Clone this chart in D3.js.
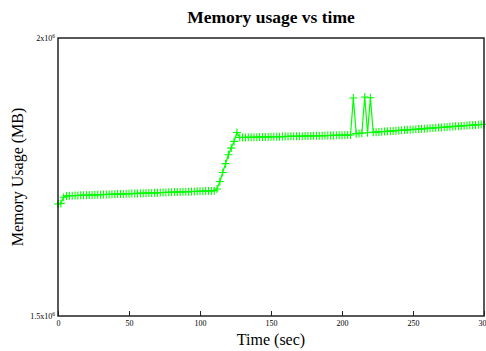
<!DOCTYPE html>
<html>
<head>
<meta charset="utf-8">
<script src="https://cdn.jsdelivr.net/npm/d3@7/dist/d3.min.js"></script>
<style>
  html, body { margin: 0; padding: 0; background: #fff; overflow: hidden; }
  svg { display: block; }
  text { font-family: "Liberation Serif", "Times New Roman", serif; fill: #000; }
</style>
</head>
<body>
<svg id="chart" width="486" height="351"></svg>
<script>
const title = "Memory usage vs time";
const xLabel = "Time (sec)";
const yLabel = "Memory Usage (MB)";
const xTicks = [0, 50, 100, 150, 200, 250, 300];
const yTicks = [1500000, 2000000];
const yTickLabels = [["1.5x10", "6"], ["2x10", "6"]];

const times = [
  0, 2, 4, 6, 8, 10, 12, 14, 16, 18, 20, 22, 24, 26, 28, 30, 32, 34, 36, 38,
  40, 42, 44, 46, 48, 50, 52, 54, 56, 58, 60, 62, 64, 66, 68, 70, 72, 74, 76, 78,
  80, 82, 84, 86, 88, 90, 92, 94, 96, 98, 100, 102, 104, 106, 108, 110,
  112, 114, 116, 118, 120, 122, 124, 126,
  128, 130, 132, 134, 136, 138, 140, 142, 144, 146, 148, 150, 152, 154, 156, 158,
  160, 162, 164, 166, 168, 170, 172, 174, 176, 178, 180, 182, 184, 186, 188, 190,
  192, 194, 196, 198, 200, 202, 204, 206,
  208, 210, 212, 214, 216, 218, 220, 222,
  224, 226, 228, 230, 232, 234, 236, 238, 240, 242, 244, 246, 248, 250, 252, 254,
  256, 258, 260, 262, 264, 266, 268, 270, 272, 274, 276, 278, 280, 282, 284, 286,
  288, 290, 292, 294, 296, 298, 300
];

const memory = [
  1701400, 1702500, 1713500, 1716000,
  1716300, 1716500, 1716600, 1716800, 1717000, 1717200, 1717300, 1717500, 1717700, 1717900,
  1718000, 1718200, 1718400, 1718600, 1718700, 1718900, 1719100, 1719300, 1719400, 1719600,
  1719800, 1720000, 1720100, 1720300, 1720500, 1720700, 1720800, 1721000, 1721200, 1721400,
  1721500, 1721700, 1721900, 1722100, 1722200, 1722400, 1722600, 1722800, 1722900, 1723100,
  1723300, 1723500, 1723600, 1723800, 1724000, 1724200, 1724300, 1724500, 1724700, 1724900,
  1725000, 1725200,
  1728500, 1742000, 1758000, 1774000, 1790000, 1802000, 1814000, 1830000,
  1821000, 1821100, 1821200, 1821300, 1821500, 1821600, 1821700, 1821800, 1821900, 1822000,
  1822200, 1822300, 1822400, 1822500, 1822600, 1822700, 1822800, 1823000, 1823100, 1823200,
  1823300, 1823400, 1823500, 1823700, 1823800, 1823900, 1824000, 1824100, 1824200, 1824400,
  1824500, 1824600, 1824700, 1824800, 1824900, 1825100, 1825200, 1825300, 1825400, 1825500,
  1892000, 1828000, 1828400, 1828800, 1894000, 1829600, 1892500, 1830400,
  1830700, 1831100, 1831400, 1831800, 1832200, 1832500, 1832900, 1833300, 1833700, 1834000,
  1834400, 1834800, 1835100, 1835500, 1835900, 1836300, 1836600, 1837000, 1837400, 1837700,
  1838100, 1838500, 1838900, 1839200, 1839600, 1840000, 1840300, 1840700, 1841100, 1841500,
  1841800, 1842200, 1842600, 1842900, 1843300, 1843700, 1844100, 1844400, 1844800
];

const data = times.map((t, i) => ({ t, m: memory[i] }));

const svg = d3.select("#chart");
const L = 58, R = 484, T = 38, B = 316;

const x = d3.scaleLinear().domain([0, 300]).range([L, R]);
const y = d3.scaleLinear().domain([1500000, 2000000]).range([B, T]);

// title
svg.append("text")
  .attr("x", (L + R) / 2).attr("y", 23)
  .attr("text-anchor", "middle")
  .attr("font-size", 17.5).attr("font-weight", "bold")
  .text(title);

// x axis ticks (inward)
const xAxis = d3.axisBottom(x).tickValues(xTicks).tickSize(-5).tickPadding(4)
  .tickFormat(d3.format("d"));
const gx = svg.append("g").attr("transform", `translate(0,${B})`).call(xAxis);
gx.select(".domain").remove();
gx.selectAll(".tick line").attr("stroke", "#222").attr("stroke-width", 1);
gx.selectAll(".tick text")
  .attr("font-size", 8).attr("font-family", "Liberation Serif, serif").attr("fill", "#000");

// y axis ticks & labels
const gy = svg.append("g");
yTicks.forEach((v, i) => {
  const tx = gy.append("text")
    .attr("x", 55).attr("y", y(v) + 3)
    .attr("text-anchor", "end")
    .attr("font-size", 8);
  tx.append("tspan").text(yTickLabels[i][0]);
  tx.append("tspan").attr("font-size", 5.5).attr("dy", -3.5).text(yTickLabels[i][1]);
});

// line
const line = d3.line().x(d => x(d.t)).y(d => y(d.m));
svg.append("path")
  .datum(data)
  .attr("fill", "none")
  .attr("stroke", "#00ff00")
  .attr("stroke-width", 1.2)
  .attr("d", line);

// + markers
svg.append("g").selectAll("path")
  .data(data)
  .join("path")
  .attr("transform", d => `translate(${x(d.t)},${y(d.m)})`)
  .attr("d", "M-4,0H4M0,-4V4")
  .attr("stroke", "#00ff00")
  .attr("stroke-width", 1.1)
  .attr("fill", "none");

// frame
svg.append("rect")
  .attr("x", L).attr("y", T).attr("width", R - L).attr("height", B - T)
  .attr("fill", "none").attr("stroke", "#222").attr("stroke-width", 1.5);

// axis labels
svg.append("text")
  .attr("x", (L + R) / 2).attr("y", 345)
  .attr("text-anchor", "middle")
  .attr("font-size", 16)
  .text(xLabel);

svg.append("text")
  .attr("transform", `translate(23,${(T + B) / 2}) rotate(-90)`)
  .attr("text-anchor", "middle")
  .attr("font-size", 16)
  .text(yLabel);
</script>
</body>
</html>
